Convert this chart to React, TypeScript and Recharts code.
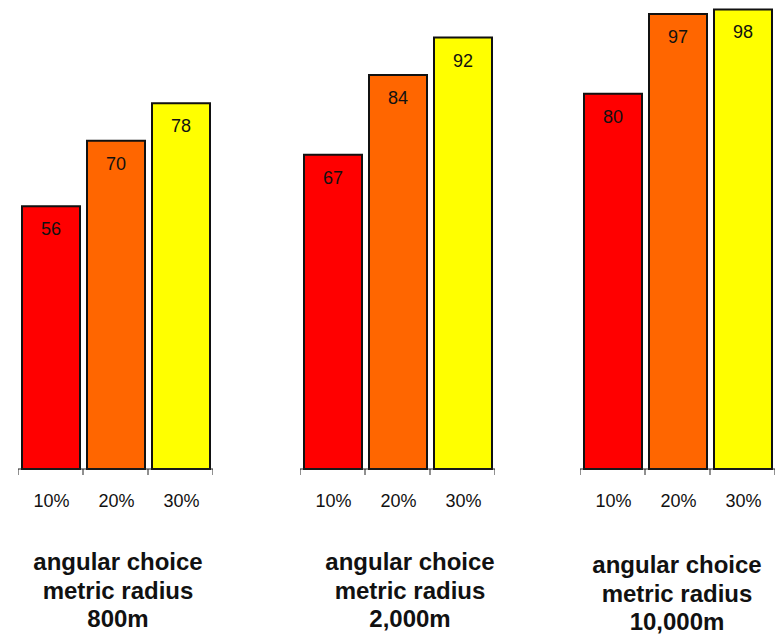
import React from 'react';
import { BarChart, Bar, XAxis, YAxis, Cell, LabelList } from 'recharts';

const thresholds = ['10%', '20%', '30%'];
const radius800 = [56, 70, 78];
const radius2000 = [67, 84, 92];
const radius10000 = [80, 97, 98];
const radiusLabels = ['800m', '2,000m', '10,000m'];
const titleLine1 = 'angular choice';
const titleLine2 = 'metric radius';
const barColors = ['#FF0000', '#FF6600', '#FFFF00'];

const PLOT_W = 195;
const CHART_H = 634;
const AXIS_H = 165;

const groups = [
  { values: radius800, label: radiusLabels[0], left: 18, titleX: 118, titleBase: 570 },
  { values: radius2000, label: radiusLabels[1], left: 299.5, titleX: 410, titleBase: 570 },
  { values: radius10000, label: radiusLabels[2], left: 580, titleX: 677, titleBase: 573 },
];

const FONT = '"Liberation Sans", Arial, Helvetica, sans-serif';

const EdgeTick = (props: any) => {
  const { x, y, payload, index } = props;
  const half = (payload && payload.offset) || PLOT_W / 6;
  const top = y - 6;
  return (
    <g>
      <line x1={x - half} y1={top} x2={x - half} y2={y} stroke="#222" strokeWidth={1} />
      {index === thresholds.length - 1 && (
        <line x1={x + half} y1={top} x2={x + half} y2={y} stroke="#222" strokeWidth={1} />
      )}
      <text x={x + 1} y={y + 32} textAnchor="middle" fontSize={18} fill="#111" fontFamily={FONT}>
        {payload.value}
      </text>
    </g>
  );
};

const ValueLabel = (props: any) => {
  const { x, y, width, value } = props;
  return (
    <text x={x + width / 2} y={y + 29} textAnchor="middle" fontSize={18} fill="#111" fontFamily={FONT}>
      {value}
    </text>
  );
};

const Group = ({ values }: { values: number[] }) => {
  const data = thresholds.map((t, i) => ({ name: t, value: values[i] }));
  return (
    <BarChart
      width={PLOT_W}
      height={CHART_H}
      data={data}
      margin={{ top: 0, right: 0, bottom: 0, left: 0 }}
      barCategoryGap={0}
    >
      <XAxis
        dataKey="name"
        height={AXIS_H}
        interval={0}
        axisLine={{ stroke: '#222', strokeWidth: 1 }}
        tickLine={false}
        tickSize={6}
        tickMargin={0}
        tick={<EdgeTick />}
      />
      <YAxis hide domain={[0, 100]} type="number" />
      <Bar dataKey="value" barSize={58} stroke="#111" strokeWidth={2} isAnimationActive={false}>
        {data.map((d, i) => (
          <Cell key={d.name} fill={barColors[i]} />
        ))}
        <LabelList dataKey="value" content={<ValueLabel />} />
      </Bar>
    </BarChart>
  );
};

export default function App() {
  return (
    <div style={{ position: 'absolute', left: 0, top: 0, width: 780, height: 634, background: '#fff' }}>
      {groups.map((g, gi) => (
        <div key={gi} style={{ position: 'absolute', left: g.left, top: 0 }}>
          <Group values={g.values} />
        </div>
      ))}
      <svg
        width={780}
        height={634}
        style={{ position: 'absolute', left: 0, top: 0, pointerEvents: 'none' }}
      >
        {groups.map((g, gi) => (
          <text
            key={gi}
            textAnchor="middle"
            fontFamily={FONT}
            fontWeight="bold"
            fontSize={24}
            fill="#111"
          >
            <tspan x={g.titleX} y={g.titleBase}>{titleLine1}</tspan>
            <tspan x={g.titleX} y={g.titleBase + 28.5}>{titleLine2}</tspan>
            <tspan x={g.titleX} y={g.titleBase + 57}>{g.label}</tspan>
          </text>
        ))}
      </svg>
    </div>
  );
}
